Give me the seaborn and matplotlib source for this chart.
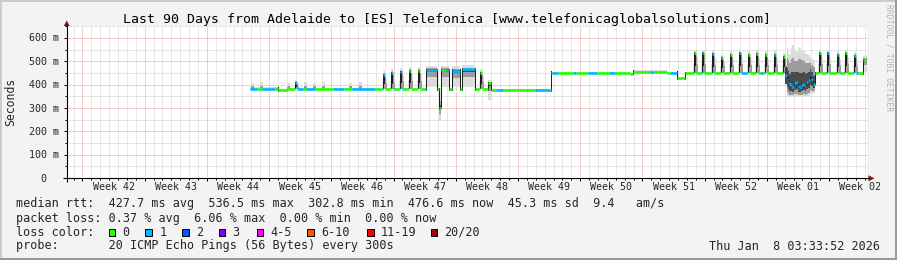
import numpy as np
import pandas as pd
import matplotlib
matplotlib.use("Agg")
import matplotlib.pyplot as plt
import seaborn as sns
from matplotlib.patches import Rectangle, Polygon
from matplotlib.lines import Line2D

# ---------------- data ----------------
TITLE = "Last 90 Days from Adelaide to [ES] Telefonica [www.telefonicaglobalsolutions.com]"
week_labels = ["Week 42", "Week 43", "Week 44", "Week 45", "Week 46", "Week 47", "Week 48",
               "Week 49", "Week 50", "Week 51", "Week 52", "Week 01", "Week 02"]
y_tick_ms = [0, 100, 200, 300, 400, 500, 600]
y_tick_labels = ["0  ", "100 m", "200 m", "300 m", "400 m", "500 m", "600 m"]

# baseline median RTT level (ms), holding from each start day (days since window start)
base_day = [20.5, 23.7, 24.9, 35.2, 47.7, 50.5, 54.45, 63.3, 63.7, 67.5, 68.6, 69.5]
base_ms = [383, 375, 382, 380, 377, 375, 451, 446, 456, 451, 427, 449]
DATA_END = 90.0

# daily spikes of the median (day, peak ms)
spike_day = [25.65, 35.44, 36.45, 37.46, 38.42, 39.43, 46.37,
             70.46, 71.4, 72.53, 73.47, 74.51, 75.52, 76.55, 77.51, 78.52, 79.46, 80.51,
             84.52, 85.46, 86.59, 87.52, 88.46]
spike_ms = [406, 441, 449, 456, 460, 460, 449,
            534, 534, 531, 513, 527, 534, 527, 531, 527, 527, 520,
            534, 534, 527, 534, 522]

# smoke-only bumps (day, top of smoke ms)
bump_day = [20.67, 21.7, 24.7, 26.7, 27.7, 28.7, 31.7, 32.8]
bump_ms = [408, 410, 405, 410, 408, 412, 406, 410]

# longer episodes: start, end, median ms, smoke low, smoke high
ep_start = [40.39, 41.8, 42.1, 43.3, 44.4, 47.35, 89.5]
ep_end = [41.6, 42.1, 43.0, 44.2, 45.9, 47.65, 90.0]
ep_ms = [463, 300, 463, 460, 465, 406, 506]
ep_lo = [392, 245, 392, 392, 392, 334, 455]
ep_hi = [482, 380, 480, 478, 484, 420, 522]

# unstable period in week 01 (start day of each level, median, smoke low/high)
unst_day = [80.8, 80.95, 81.1, 81.25, 81.4, 81.6, 81.8, 82.0, 82.2, 82.4, 82.6,
            82.8, 83.0, 83.15, 83.35, 83.55, 83.75, 83.9]
unst_ms = [441, 425, 412, 403, 398, 391, 405, 410, 395, 391, 400,
           403, 395, 410, 418, 441, 425, 403]
unst_lo = [362, 352, 348, 346, 345, 345, 348, 350, 346, 345, 346,
           350, 348, 350, 352, 360, 362, 365]
unst_hi = [540, 555, 545, 530, 560, 570, 545, 540, 560, 558, 548,
           545, 535, 530, 525, 520, 512, 505]
UNST_END = 84.15

# periods with 1/20 packets lost (median drawn in loss colour "1")
blue_start = [20.5, 21.9, 25.6, 26.9, 29.9, 32.1, 35.4, 36.4, 37.4, 40.3, 42.6, 43.3, 44.4,
              48.3, 52.6, 54.6, 56.96, 58.65, 61.0, 65.6, 67.8, 71.35, 72.5, 75.7, 78.0,
              79.5, 80.8, 85.4, 86.75, 88.4]
blue_end = [21.4, 23.4, 26.5, 27.9, 31.2, 34.6, 35.8, 36.8, 37.8, 41.6, 43.0, 44.2, 45.9,
            49.1, 54.3, 55.2, 57.3, 59.6, 61.65, 66.0, 68.6, 71.6, 72.8, 76.5, 78.3,
            79.7, 84.1, 85.7, 87.0, 89.0]

loss_labels = ["0", "1", "2", "3", "4-5", "6-10", "11-19", "20/20"]
loss_colors = ["#26ff00", "#00b8ff", "#0059ff", "#7e00ff", "#ff00ff", "#ff5500", "#ff0000", "#a10000"]

stats_line1 = "median rtt:  427.7 ms avg  536.5 ms max  302.8 ms min  476.6 ms now  45.3 ms sd  9.4   am/s"
stats_line2 = "packet loss: 0.37 % avg  6.06 % max  0.00 % min  0.00 % now"
probe_line = "probe:       20 ICMP Echo Pings (56 Bytes) every 300s"
date_text = "Thu Jan  8 03:33:52 2026"
watermark = "RRDTOOL / TOBI OETIKER"

# ---------------- build per-column series ----------------
DAYS = 90.0
NPX = 800
DT = DAYS / NPX
k0 = int(np.ceil(base_day[0] / DT))
t = DT * np.arange(k0, int(round(DATA_END / DT)))
tc = t + DT / 2
n = len(t)
idx = np.searchsorted(base_day, tc, side="right") - 1
base = np.array(base_ms, float)[idx]
med = base.copy()
lt_lo, lt_hi = base - 4, base + 5
md_lo = np.full(n, np.nan); md_hi = np.full(n, np.nan)
sd_lo = np.full(n, np.nan); sd_hi = np.full(n, np.nan)
dk_lo = np.full(n, np.nan); dk_hi = np.full(n, np.nan)

for s, top in zip(bump_day, bump_ms):
    m = (tc >= s) & (tc < s + 0.34)
    lt_hi[m] = top
    md_lo[m] = base[m]
    md_hi[m] = base[m] + (top - base[m]) * 0.45

for st, en, mm, lo, hi in zip(ep_start, ep_end, ep_ms, ep_lo, ep_hi):
    m = (tc >= st) & (tc < en)
    med[m] = mm
    lt_lo[m] = lo; lt_hi[m] = hi
    md_lo[m] = mm - (mm - lo) * 0.45
    md_hi[m] = mm + (hi - mm) * 0.4
    sd_lo[m] = mm - (mm - lo) * 0.15
    sd_hi[m] = mm + (hi - mm) * 0.15

u_edges = list(unst_day) + [UNST_END]
for j in range(len(unst_day)):
    m = (tc >= u_edges[j]) & (tc < u_edges[j + 1])
    mm = unst_ms[j]
    med[m] = mm
    lt_lo[m] = unst_lo[j]; lt_hi[m] = unst_hi[j]
    md_lo[m] = mm - (mm - unst_lo[j]) * 0.8
    md_hi[m] = mm + (unst_hi[j] - mm) * 0.7
    sd_lo[m] = mm - (mm - unst_lo[j]) * 0.5
    sd_hi[m] = mm + (unst_hi[j] - mm) * 0.35

# transition columns are dark
for i in range(1, n):
    if abs(med[i] - med[i - 1]) > 7:
        dk_lo[i] = min(med[i], med[i - 1]) - 6
        dk_hi[i] = max(med[i], med[i - 1]) + 6

for s, p in zip(spike_day, spike_ms):
    i = int(np.searchsorted(t, s))
    if i + 3 >= n:
        continue
    b = base[i]
    h = p - b
    med[i:i + 2] = p
    dk_lo[i] = b; dk_hi[i] = p + 4
    dk_lo[i + 1] = b + h * 0.35; dk_hi[i + 1] = p + 2
    md_lo[i + 1] = b; md_hi[i + 1] = p + 8
    md_lo[i + 2] = b; md_hi[i + 2] = p - h * 0.1
    md_lo[i + 3] = b; md_hi[i + 3] = b + h * 0.45
    lt_lo[i - 1:i + 4] = b
    lt_hi[i - 1] = b + h * 0.5
    lt_hi[i:i + 2] = p + 16
    lt_hi[i + 2] = p + 6
    lt_hi[i + 3] = p - h * 0.2

loss = np.zeros(n, int)
for a, b in zip(blue_start, blue_end):
    loss[(tc >= a) & (tc < b)] = 1

rows = []
unit = 0
i = 0
while i < n:
    j = i
    while j + 1 < n and med[j + 1] == med[i] and loss[j + 1] == loss[i]:
        j += 1
    lab = loss_labels[loss[i]]
    rows.append((unit, t[i], med[i], lab))
    rows.append((unit, t[j] + DT, med[i], lab))
    unit += 1
    i = j + 1
df = pd.DataFrame(rows, columns=["unit", "day", "ms", "loss"])

# ---------------- figure ----------------
sns.set_theme(style="white")
plt.rcParams["font.family"] = ["DejaVu Sans Mono", "DejaVu Sans"]
plt.rcParams["lines.solid_capstyle"] = "butt"

W, H = 897, 260
fig = plt.figure(figsize=(W / 100, H / 100), dpi=100, facecolor="#f3f3f3")


def fx(px):
    return px / W


def fy(py):
    return 1 - py / H


Y0, Y1 = 178.0, 26.3
ax = fig.add_axes([fx(67), fy(Y0), NPX / W, (Y0 - Y1) / H])
ax.set_facecolor("white")
ax.set_xlim(0, DAYS)
ax.set_ylim(0, 650)
for sp in ax.spines.values():
    sp.set_visible(False)

G0 = 1.74
major_days = [G0 + 7 * k for k in range(13)]
minor_days = [G0 + j for j in range(-1, 89) if (j % 7) != 0 and 0 < G0 + j < DAYS]
ax.vlines(minor_days, 0, 650, colors=(0.56, 0.56, 0.56, 0.42), lw=0.72,
          linestyles=(0, (1, 1)), zorder=0.5)
ax.hlines([v for v in range(50, 651, 50) if v % 100], 0, DAYS, colors=(0.56, 0.56, 0.56, 0.42),
          lw=0.72, linestyles=(0, (1, 1)), zorder=0.5)
ax.vlines(major_days, 0, 650, colors=(0.87, 0.31, 0.31, 0.55), lw=0.72,
          linestyles=(0, (1, 1)), zorder=0.6)
ax.hlines(y_tick_ms[1:], 0, DAYS, colors=(0.87, 0.31, 0.31, 0.55), lw=0.72,
          linestyles=(0, (1, 1)), zorder=0.6)


def bands(lo, hi, color, z):
    ok = ~(np.isnan(lo) | np.isnan(hi))
    ax.bar(t[ok], (hi - lo)[ok], bottom=lo[ok], width=DT, align="edge", color=color,
           linewidth=0, antialiased=False, zorder=z)


bands(lt_lo, lt_hi, "#dcdcdc", 1.0)
bands(md_lo, md_hi, "#9c9c9c", 1.1)
bands(sd_lo, sd_hi, "#4a4a4a", 1.15)
bands(dk_lo, dk_hi, "#1e1e1e", 1.2)

sns.lineplot(data=df, x="day", y="ms", hue="loss", units="unit", estimator=None,
             hue_order=["0", "1"], palette={"0": loss_colors[0], "1": loss_colors[1]},
             legend=False, lw=1.9, sort=False, ax=ax, zorder=3)

ax.set_xlabel(""); ax.set_ylabel("")
ax.set_xticks(major_days)
ax.set_xticks(minor_days, minor=True)
ax.set_xticklabels([])
ax.set_yticks(y_tick_ms)
ax.set_yticks([v for v in range(50, 651, 100)], minor=True)
ax.set_yticklabels([])
ax.tick_params(axis="both", which="major", direction="out", length=2.2, width=0.72, color="black",
               bottom=True, left=True)
ax.tick_params(axis="both", which="minor", direction="out", length=1.4, width=0.72, color="black",
               bottom=True, left=True)

# axis lines with arrows
fig.add_artist(Line2D([fx(63), fx(869)], [fy(178.3), fy(178.3)], lw=0.8, color="black"))
fig.add_artist(Line2D([fx(66.7), fx(66.7)], [fy(182), fy(25)], lw=0.8, color="black"))
fig.add_artist(Polygon([(fx(63.8), fy(26)), (fx(69.6), fy(26)), (fx(66.7), fy(20.5))],
                       closed=True, transform=fig.transFigure, color="#8b1010", lw=0))
fig.add_artist(Polygon([(fx(868.5), fy(175.3)), (fx(868.5), fy(181.3)), (fx(874.5), fy(178.3))],
                       closed=True, transform=fig.transFigure, color="#8b1010", lw=0))

# texts
fig.text(fx(447), fy(19.3), TITLE, ha="center", va="center", fontsize=9.5, color="black")
fig.text(fx(10.8), fy(101.7), "Seconds", ha="center", va="center", rotation=90, fontsize=8.3)
for v, lab in zip(y_tick_ms, y_tick_labels):
    fig.text(fx(59), fy(Y0 - v * (Y0 - Y1) / 650) - 0.002, lab, ha="right", va="center",
             fontsize=7.2)
for k, lab in enumerate(week_labels):
    d = G0 + 3.5 + 7 * k
    fig.text(fx(67 + d * NPX / DAYS), fy(187.3), lab, ha="center", va="center", fontsize=7.2)

fig.text(fx(16), fy(204), stats_line1, ha="left", va="center", fontsize=8.5)
fig.text(fx(16), fy(218.3), stats_line2, ha="left", va="center", fontsize=8.5)
fig.text(fx(16), fy(232.3), "loss color:", ha="left", va="center", fontsize=8.5)
fig.text(fx(16), fy(246), probe_line, ha="left", va="center", fontsize=8.5)
fig.text(fx(880), fy(246), date_text, ha="right", va="center", fontsize=8.5)

box_x = [108, 144.7, 181.7, 218.3, 256, 306.7, 366.7, 430]
lab_x = [122, 159.3, 196, 232.6, 270, 321, 381, 444.3]
for bx, lx, lab, c in zip(box_x, lab_x, loss_labels, loss_colors):
    fig.add_artist(Rectangle((fx(bx + 0.5), fy(235.5)), 6.5 / W, 6.5 / H, transform=fig.transFigure,
                             facecolor=c, edgecolor="black", lw=0.72))
    fig.text(fx(lx), fy(232.3), lab, ha="left", va="center", fontsize=8.5)

fig.text(fx(888.5), fy(4), watermark, ha="center", va="top", rotation=270, fontsize=5.8,
         color="#b4b4b4")

# frame
fig.add_artist(Line2D([0, 1], [fy(1), fy(1)], lw=1.44, color="#cbcbcb"))
fig.add_artist(Line2D([fx(1), fx(1)], [0, 1], lw=1.44, color="#cbcbcb"))
fig.add_artist(Line2D([0, 1], [fy(259), fy(259)], lw=1.44, color="#999999"))
fig.add_artist(Line2D([fx(896), fx(896)], [0, 1], lw=1.44, color="#999999"))

fig.savefig("out.png", dpi=100, facecolor=fig.get_facecolor())
